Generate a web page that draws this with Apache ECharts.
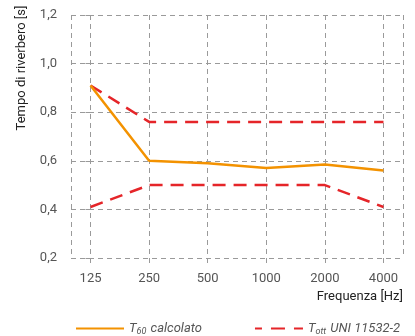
<!DOCTYPE html>
<html>
<head>
<meta charset="utf-8">
<script src="https://cdn.jsdelivr.net/npm/echarts@6/dist/echarts.min.js"></script>
<style>
  html, body { margin: 0; padding: 0; background: #fff; }
  #chart { width: 415px; height: 336px; }
</style>
</head>
<body>
<div id="chart"></div>
<script>
// Octave-band centre frequencies (Hz)
const frequencies = ['125', '250', '500', '1000', '2000', '4000'];
// Computed reverberation time T60 (s)
const t60Calcolato = [0.91, 0.60, 0.59, 0.57, 0.585, 0.56];
// Tolerance band around the optimal reverberation time (s)
const tottUpper = [0.91, 0.76, 0.76, 0.76, 0.76, 0.76];
const tottLower = [0.41, 0.50, 0.50, 0.50, 0.50, 0.41];
// Y axis ticks
const yTicks = [0.2, 0.4, 0.6, 0.8, 1.0, 1.2];

const toPairs = arr => arr.map((v, i) => [i, v]);

const gridColor = '#9a9a9a';
const labelColor = '#555';
const orange = '#F39200';
const red = '#E52529';

const chart = echarts.init(document.getElementById('chart'), null, { renderer: 'canvas' });

chart.setOption({
  animation: false,
  textStyle: { fontFamily: 'Roboto' },
  grid: { left: 71, right: 12, top: 15, bottom: 78, containLabel: false },
  xAxis: {
    type: 'value',
    min: -1 / 3,
    max: frequencies.length - 1 + 1 / 3,
    splitNumber: 6,
    axisLine: { show: false },
    axisTick: { show: true, length: 8, lineStyle: { color: gridColor, type: [5, 4] } },
    splitLine: { show: true, lineStyle: { color: gridColor, type: [5, 4], width: 1 } },
    axisLabel: {
      color: labelColor, fontSize: 13, margin: 14,
      showMinLabel: false, showMaxLabel: false,
      formatter: v => {
        const i = Math.round(v);
        return (Math.abs(v - i) < 1e-6 && frequencies[i] !== undefined) ? frequencies[i] : '';
      }
    }
  },
  yAxis: {
    type: 'value',
    min: yTicks[0],
    max: yTicks[yTicks.length - 1],
    interval: 0.2,
    axisLine: { show: false },
    axisTick: { show: true, length: 8, lineStyle: { color: gridColor, type: [5, 4] } },
    splitLine: { show: true, lineStyle: { color: gridColor, type: [5, 4], width: 1 } },
    axisLabel: {
      color: labelColor, fontSize: 13, margin: 14,
      formatter: v => v.toFixed(1).replace('.', ',')
    }
  },
  legend: {
    show: true,
    orient: 'horizontal',
    left: 70,
    width: 345,
    top: 317,
    itemWidth: 48,
    itemHeight: 14,
    itemGap: 52,
    itemStyle: { opacity: 0 },
    data: [
      { name: 'T60' },
      { name: 'Tott', lineStyle: { type: [14, 9], dashOffset: 7 } }
    ],
    formatter: name => name === 'T60'
      ? '{i|T}{s|60}{i| calcolato}'
      : '{i|T}{s|ott}{i| UNI 11532-2}',
    textStyle: {
      color: labelColor,
      fontSize: 13,
      rich: {
        i: { fontStyle: 'italic', fontSize: 13, color: labelColor, fontFamily: 'Roboto' },
        s: { fontStyle: 'italic', fontSize: 9, color: labelColor, fontFamily: 'Roboto', padding: [7, 1, 0, 0] }
      }
    }
  },
  graphic: [
    {
      type: 'text', x: 22, y: 68, rotation: Math.PI / 2,
      style: { text: 'Tempo di riverbero [s]', fontSize: 13, fontFamily: 'Roboto', fill: '#222', align: 'center', verticalAlign: 'middle' }
    },
    {
      type: 'text', right: 12, top: 290,
      style: { text: 'Frequenza [Hz]', fontSize: 13, fontFamily: 'Roboto', fill: '#222' }
    }
  ],
  series: [
    {
      name: 'Tott', type: 'line', data: toPairs(tottUpper), symbol: 'none', z: 2,
      lineStyle: { color: red, width: 2.5, type: [13, 8] }, itemStyle: { color: red }
    },
    {
      name: 'Tott', type: 'line', data: toPairs(tottLower), symbol: 'none', z: 2,
      lineStyle: { color: red, width: 2.5, type: [13, 8] }, itemStyle: { color: red }
    },
    {
      name: 'T60', type: 'line', data: toPairs(t60Calcolato), symbol: 'none', z: 3,
      lineStyle: { color: orange, width: 2.5 }, itemStyle: { color: orange }
    }
  ]
});
</script>
</body>
</html>
